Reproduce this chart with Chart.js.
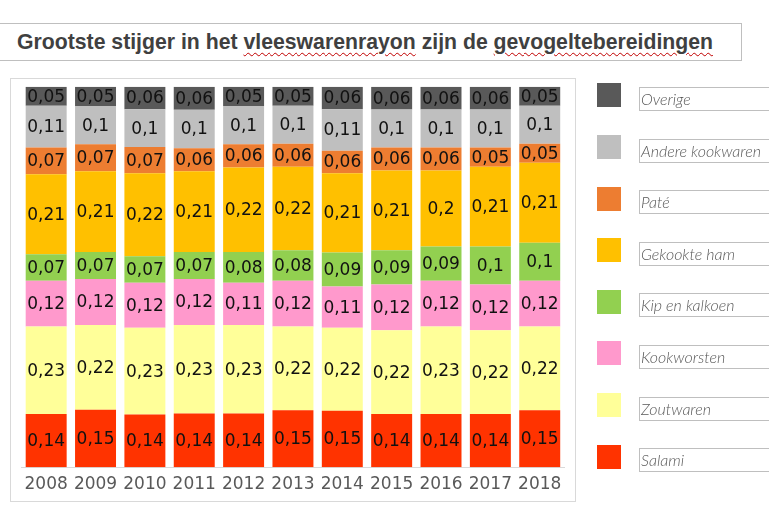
<!DOCTYPE html>
<html>
<head>
<meta charset="utf-8">
<script src="https://cdn.jsdelivr.net/npm/chart.js@4.4.1/dist/chart.umd.min.js"></script>
<style>
  html, body { margin:0; padding:0; background:#fff; }
  body { width:769px; height:526px; position:relative; overflow:hidden; }
  #titleBox { position:absolute; left:-1px; top:23px; width:743px; height:38px; border:1px solid #bfbfbf; box-sizing:border-box; }
  #title { position:absolute; left:17px; top:23px; height:38px; line-height:38px; white-space:nowrap;
           font-family:"Liberation Sans", Arial, sans-serif; font-weight:bold; font-size:22px; color:#404040;
           transform-origin:0 50%; }
  .wavy { text-decoration: underline wavy #c00000; text-decoration-thickness:1px; text-underline-offset:3px; }
  #chartBox { position:absolute; left:10px; top:78px; width:566px; height:424px; border:1px solid #d9d9d9; box-sizing:border-box; }
  canvas#c { position:absolute; left:0; top:0; }
  .lg-sw { position:absolute; width:24px; height:24px; }
  .lg-box { position:absolute; height:24px; width:140px; border:1px solid #bfbfbf; box-sizing:border-box;
            font-family:"Lato","Liberation Sans",sans-serif; font-weight:300; font-style:italic; font-size:16px; color:#595959;
            line-height:22px; padding-left:1px; white-space:nowrap; overflow:hidden; }
</style>
</head>
<body>
<div id="titleBox"></div>
<div id="title">Grootste stijger in het <span class="wavy">vleeswarenrayon</span> zijn de <span class="wavy">gevogeltebereidingen</span></div>
<div id="chartBox"></div>
<canvas id="c" width="769" height="526"></canvas>
<div id="legend"></div>
<script>
// ---- data ----
const years = ["2008","2009","2010","2011","2012","2013","2014","2015","2016","2017","2018"];
const salami      = [0.14,0.15,0.14,0.14,0.14,0.15,0.15,0.14,0.14,0.14,0.15];
const zoutwaren   = [0.23,0.22,0.23,0.23,0.23,0.22,0.22,0.22,0.23,0.22,0.22];
const kookworsten = [0.12,0.12,0.12,0.12,0.11,0.12,0.11,0.12,0.12,0.12,0.12];
const kipKalkoen  = [0.07,0.07,0.07,0.07,0.08,0.08,0.09,0.09,0.09,0.10,0.10];
const gekookteHam = [0.21,0.21,0.22,0.21,0.22,0.22,0.21,0.21,0.20,0.21,0.21];
const pate        = [0.07,0.07,0.07,0.06,0.06,0.06,0.06,0.06,0.06,0.05,0.05];
const andere      = [0.11,0.10,0.10,0.10,0.10,0.10,0.11,0.10,0.10,0.10,0.10];
const overige     = [0.05,0.05,0.06,0.06,0.05,0.05,0.06,0.06,0.06,0.06,0.05];

const seriesNames  = ["Salami","Zoutwaren","Kookworsten","Kip en kalkoen","Gekookte ham","Paté","Andere kookwaren","Overige"];
const seriesValues = [salami, zoutwaren, kookworsten, kipKalkoen, gekookteHam, pate, andere, overige];
const seriesColors = ["#ff3300","#ffff99","#ff99cc","#92d050","#ffc000","#ed7d31","#bfbfbf","#595959"];

// 100% stacked: normalise each year to its column total
const totals = years.map((_, i) => seriesValues.reduce((s, arr) => s + arr[i], 0));
const datasets = seriesNames.map((name, k) => ({
  label: name,
  data: seriesValues[k].map((v, i) => v / totals[i]),
  raw: seriesValues[k],
  backgroundColor: seriesColors[k],
  borderWidth: 0,
  barPercentage: 0.83,
  categoryPercentage: 1.0
}));

const fmt = v => String(Math.round(v * 100) / 100).replace(".", ",");

const labelPlugin = {
  id: "segLabels",
  afterDatasetsDraw(chart) {
    const ctx = chart.ctx;
    ctx.save();
    ctx.font = '17px "DejaVu Sans", sans-serif';
    ctx.fillStyle = "#111";
    ctx.textAlign = "center";
    ctx.textBaseline = "middle";
    chart.data.datasets.forEach((ds, di) => {
      const meta = chart.getDatasetMeta(di);
      meta.data.forEach((el, i) => {
        ctx.fillText(fmt(ds.raw[i]), el.x, (el.y + el.base) / 2 + 1);
      });
    });
    ctx.restore();
  }
};

new Chart(document.getElementById("c"), {
  type: "bar",
  data: { labels: years, datasets },
  options: {
    responsive: false,
    animation: false,
    layout: { padding: { left: 21.5, right: 204.6, top: 86.7, bottom: 18.7 } },
    plugins: { legend: { display: false }, tooltip: { enabled: false } },
    scales: {
      x: {
        stacked: true,
        grid: { display: false },
        border: { color: "#d9d9d9", width: 1 },
        ticks: { color: "#595959", font: { family: '"DejaVu Sans", sans-serif', size: 17, lineHeight: 1 }, padding: 1, maxRotation: 0 },
        afterFit(scale) { scale.height = 40; }
      },
      y: { stacked: true, display: false, min: 0, max: 1 }
    }
  },
  plugins: [labelPlugin]
});

// legend (top to bottom = reverse of stacking order)
const legend = document.getElementById("legend");
for (let j = 0; j < seriesNames.length; j++) {
  const k = seriesNames.length - 1 - j;
  const y = 83.3 + j * 51.6;
  const sw = document.createElement("div");
  sw.className = "lg-sw";
  sw.style.left = "597px"; sw.style.top = y + "px";
  sw.style.background = seriesColors[k];
  legend.appendChild(sw);
  const bx = document.createElement("div");
  bx.className = "lg-box";
  bx.style.left = "639px"; bx.style.top = (y + 3.7) + "px";
  bx.textContent = seriesNames[k];
  legend.appendChild(bx);
}

// fit title width to reference (~696px)
const t = document.getElementById("title");
const w = t.getBoundingClientRect().width;
t.style.transform = "scaleX(" + (696 / w) + ")";
</script>
</body>
</html>
